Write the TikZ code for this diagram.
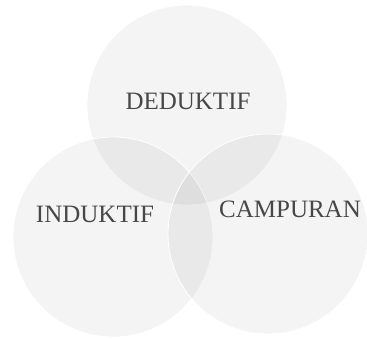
\documentclass[tikz,border=0pt]{standalone}
\usepackage{fontspec}
\setmainfont{Liberation Serif}
\usetikzlibrary{calc}
\begin{document}
\begin{tikzpicture}[x=1pt,y=1pt,
  venn/.style={circle, minimum size=200pt, inner sep=0pt, fill=black, fill opacity=0.045, draw=white, line width=0.8pt},
  lbl/.style={font=\fontsize{25}{28}\selectfont, text=black!72, inner sep=0pt}]
\useasboundingbox (0,0) rectangle (367,338);
\fill[white] (0,0) rectangle (367,338);
\node[venn] (ded) at (187,233) {};
\node[venn] (ind) at (113,101) {};
\node[venn] (cam) at (268,104) {};
\node[lbl] (tded) at (188,237) {DEDUKTIF};
\node[lbl] (tind) at (95,124) {INDUKTIF};
\node[lbl] (tcam) at (290,129) {CAMPURAN};
\end{tikzpicture}
\end{document}
